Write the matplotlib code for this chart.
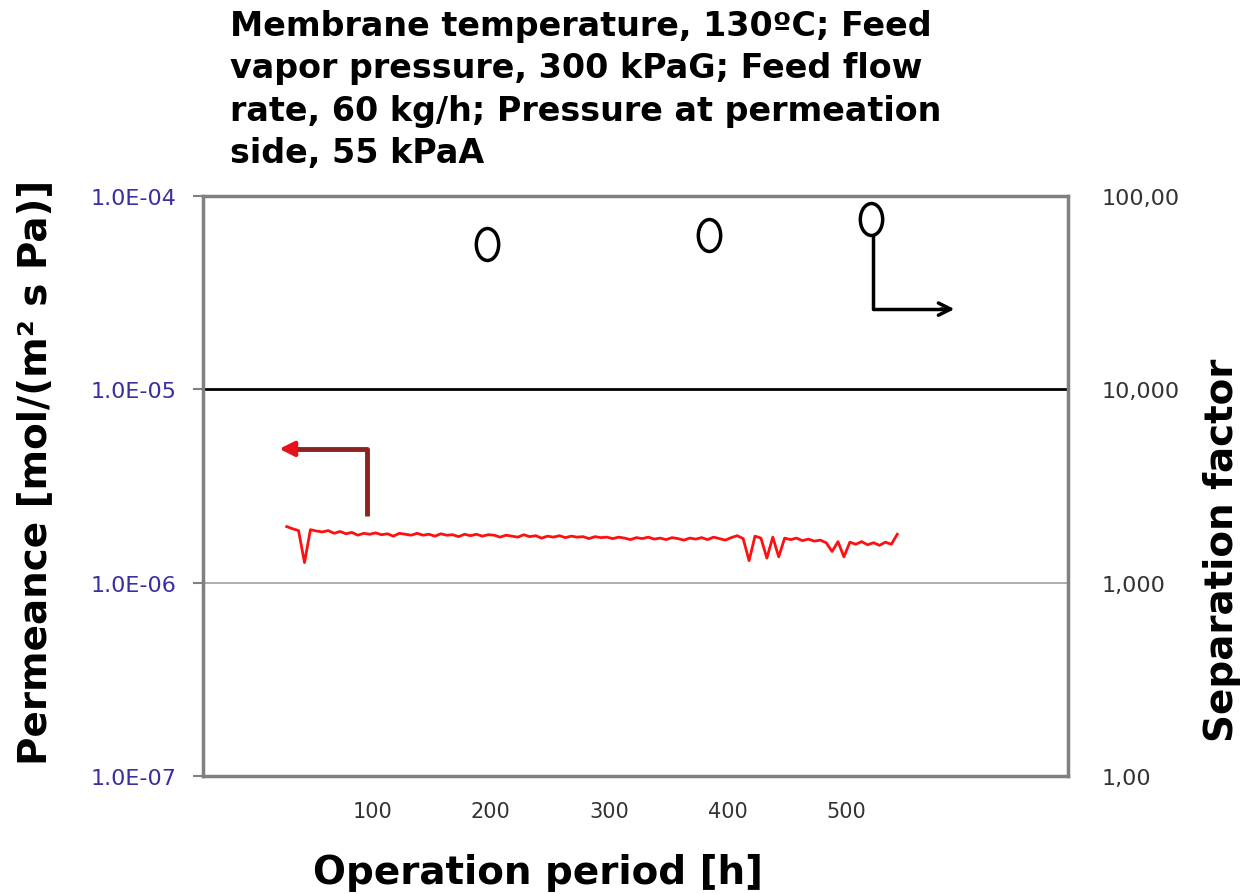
import numpy as np
import matplotlib
matplotlib.use('Agg')
import matplotlib.pyplot as plt
from matplotlib.path import Path
from matplotlib.ticker import FixedLocator, NullLocator

# permeance (left axis), h vs mol/(m2 s Pa) * 1e-6
hours = list(range(28, 544, 5))
permeance = [1.95, 1.90, 1.86, 1.27, 1.88, 1.85, 1.83, 1.86, 1.80, 1.84,
             1.79, 1.82, 1.76, 1.80, 1.78, 1.81, 1.77, 1.79, 1.74, 1.80,
             1.78, 1.76, 1.80, 1.76, 1.78, 1.74, 1.79, 1.76, 1.77, 1.73,
             1.78, 1.75, 1.78, 1.74, 1.77, 1.76, 1.72, 1.76, 1.74, 1.72,
             1.77, 1.73, 1.75, 1.70, 1.74, 1.72, 1.75, 1.71, 1.74, 1.72,
             1.73, 1.69, 1.73, 1.71, 1.72, 1.69, 1.72, 1.70, 1.67, 1.71,
             1.69, 1.72, 1.68, 1.70, 1.67, 1.71, 1.69, 1.66, 1.70, 1.68,
             1.71, 1.67, 1.72, 1.69, 1.66, 1.71, 1.75, 1.69, 1.30, 1.74,
             1.70, 1.34, 1.72, 1.36, 1.70, 1.67, 1.70, 1.65, 1.68, 1.64,
             1.66, 1.61, 1.45, 1.63, 1.36, 1.62, 1.58, 1.63, 1.57, 1.61,
             1.56, 1.62, 1.58, 1.78]

# separation factor (right axis)
sep_hours = [197, 384, 521]
sep_factor = [56500, 62800, 76000]

xticks = [100, 200, 300, 400, 500]
left_ticks = [1e-7, 1e-6, 1e-5, 1e-4]
left_labels = ['1.0E-07', '1.0E-06', '1.0E-05', '1.0E-04']
right_ticks = [100, 1000, 10000, 100000]
right_labels = ['1,00', '1,000', '10,000', '100,00']

title = ('Membrane temperature, 130\u00baC; Feed\n'
         'vapor pressure, 300 kPaG; Feed flow\n'
         'rate, 60 kg/h; Pressure at permeation\n'
         'side, 55 kPaA')

fig = plt.figure(figsize=(12.43, 8.95), dpi=100)
ax = fig.add_axes([203/1243, 1-777/895, 865/1243, 580/895])

ax.plot(hours, np.array(permeance) * 1e-6, color='#ff1010', lw=2)
ax.set_yscale('log')
ax.set_ylim(1e-7, 1e-4)
ax.set_xlim(-42.6, 687)

ax.axhline(1e-5, color='black', lw=2, zorder=1)
ax.axhline(1e-6, color='#a0a0a0', lw=1.2, zorder=1)

ax.yaxis.set_major_locator(FixedLocator(left_ticks))
ax.yaxis.set_minor_locator(NullLocator())
ax.set_yticklabels(left_labels, color='#3a2fa0', fontsize=16)
ax.tick_params(axis='y', length=7, width=1.5, color='#808080', pad=12)
ax.set_xticks(xticks)
ax.set_xticklabels([str(t) for t in xticks], fontsize=15, color='#333333')
ax.tick_params(axis='x', length=0, pad=18)
for s in ax.spines.values():
    s.set_color('#808080')
    s.set_linewidth(2.5)

ax2 = ax.twinx()
ax2.set_yscale('log')
ax2.set_ylim(100, 100000)
ax2.yaxis.set_major_locator(FixedLocator(right_ticks))
ax2.yaxis.set_minor_locator(NullLocator())
ax2.set_yticklabels(right_labels, fontsize=16, color='#333333')
ax2.tick_params(axis='y', length=0, pad=24)
for s in ax2.spines.values():
    s.set_visible(False)

# tall open ellipse marker
circ = Path.unit_circle()
ellipse = Path(circ.vertices * [0.7, 1.0], circ.codes)
ax2.plot(sep_hours, sep_factor, ls='none', marker=ellipse, ms=23,
         mfc='none', mec='black', mew=2.5)

# arrows pointing to the axes
ax.plot([0.190, 0.190, 0.10], [0.448, 0.564, 0.564], color='#8b2323',
        lw=3.5, transform=ax.transAxes, solid_capstyle='butt')
ax.annotate('', xy=(0.085, 0.564), xytext=(0.11, 0.564),
            xycoords='axes fraction',
            arrowprops=dict(arrowstyle='-|>', color='#e8101a', lw=3,
                            mutation_scale=22))
ax.plot([0.775, 0.775, 0.86], [0.93, 0.805, 0.805], color='black',
        lw=2.5, transform=ax.transAxes)
ax.annotate('', xy=(0.872, 0.805), xytext=(0.85, 0.805),
            xycoords='axes fraction',
            arrowprops=dict(arrowstyle='->', color='black', lw=2.5,
                            mutation_scale=22))

fig.text(230/1243, 1-10/895, title, ha='left', va='top', fontsize=24,
         fontweight='bold', linespacing=1.36)
fig.text(35/1243, 1-472/895, 'Permeance [mol/(m\u00b2 s Pa)]', rotation=90,
         ha='center', va='center', fontsize=28, fontweight='bold')
fig.text(1222/1243, 1-550/895, 'Separation factor', rotation=90,
         ha='center', va='center', fontsize=28, fontweight='bold')
fig.text(538/1243, 1-873/895, 'Operation period [h]', ha='center',
         va='center', fontsize=28, fontweight='bold')

fig.savefig('out.png', dpi=100)
